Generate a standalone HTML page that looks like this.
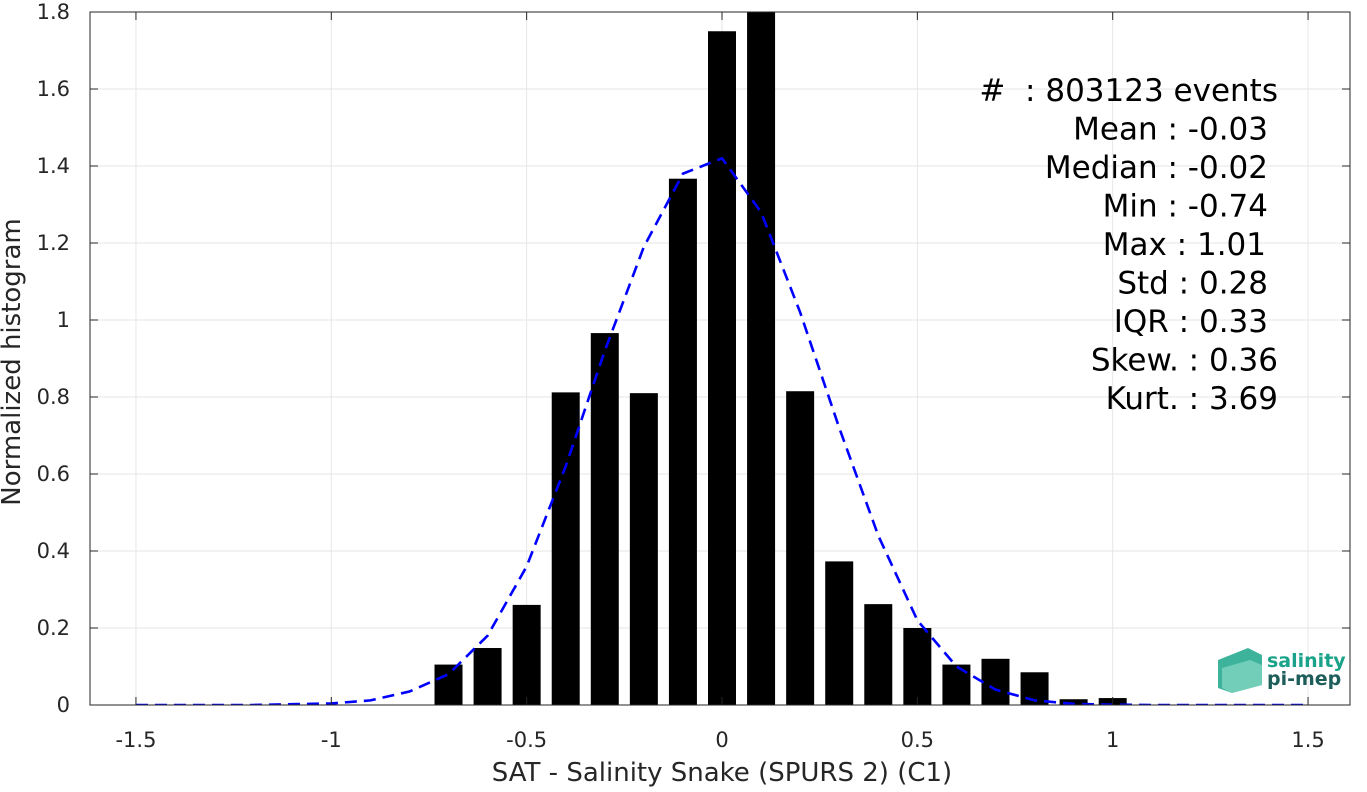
<!DOCTYPE html>
<html><head><meta charset="utf-8"><style>
body{margin:0;background:#fff;font-family:"Liberation Sans","DejaVu Sans",sans-serif;}
svg text{font-family:"DejaVu Sans","Liberation Sans",sans-serif;}
</style></head><body>
<svg id="c" width="1367" height="787" xmlns="http://www.w3.org/2000/svg"></svg>
<script>
const xTicks=[-1.5,-1,-0.5,0,0.5,1,1.5];
const xTickLabels=["-1.5","-1","-0.5","0","0.5","1","1.5"];
const yTicks=[0,0.2,0.4,0.6,0.8,1,1.2,1.4,1.6,1.8];
const yTickLabels=["0","0.2","0.4","0.6","0.8","1","1.2","1.4","1.6","1.8"];
const binCenters=[-0.7,-0.6,-0.5,-0.4,-0.3,-0.2,-0.1,0,0.1,0.2,0.3,0.4,0.5,0.6,0.7,0.8,0.9,1.0];
const binValues=[0.105,0.148,0.26,0.812,0.966,0.81,1.367,1.75,1.85,0.815,0.373,0.262,0.2,0.105,0.12,0.085,0.015,0.018];
const fitX=[-1.5,-1.4,-1.3,-1.2,-1.1,-1.0,-0.9,-0.8,-0.7,-0.6,-0.5,-0.4,-0.3,-0.2,-0.1,0,0.1,0.2,0.3,0.4,0.5,0.6,0.7,0.8,0.9,1.0,1.1,1.2,1.3,1.4,1.5];
const fitY=[0,0,0,0,0.002,0.004,0.012,0.035,0.08,0.18,0.36,0.62,0.92,1.19,1.38,1.42,1.28,1.02,0.72,0.44,0.22,0.1,0.04,0.012,0.003,0.001,0,0,0,0,0];
const stats=["#  : 803123 events","Mean : -0.03","Median : -0.02","Min : -0.74","Max : 1.01","Std : 0.28","IQR : 0.33","Skew. : 0.36","Kurt. : 3.69"];
const statRight=[1278,1268,1268,1268,1266,1268,1268,1278,1278];

const L=90,R=1350,T=12,B=705;
const X=v=>722+v*390.7;
const Y=v=>B-v*385;
const s=document.getElementById('c');
const NS="http://www.w3.org/2000/svg";
function mk(t,a,p){const e=document.createElementNS(NS,t);for(const k in a)e.setAttribute(k,a[k]);(p||s).appendChild(e);return e;}
mk('rect',{x:L,y:T,width:R-L,height:B-T,fill:'#fff'});
const grid=mk('g',{});


xTicks.forEach(v=>mk('line',{x1:X(v),x2:X(v),y1:T,y2:B,stroke:'#e6e6e6','stroke-width':1},grid));
yTicks.forEach(v=>mk('line',{x1:L,x2:R,y1:Y(v),y2:Y(v),stroke:'#e6e6e6','stroke-width':1},grid));
const defs=mk('defs',{});
const cp=mk('clipPath',{id:'pc'},defs);mk('rect',{x:L,y:T,width:R-L,height:B-T},cp);
const bars=mk('g',{'clip-path':'url(#pc)'});
binCenters.forEach((c,i)=>{
 const b=mk('rect',{x:X(c)-14,y:Y(binValues[i]),width:28,height:B-Y(binValues[i]),fill:'#000'},bars);
 
 
});
const fit=mk('polyline',{points:fitX.map((x,i)=>X(x)+','+Y(fitY[i])).join(' '),fill:'none',stroke:'#0000ff','stroke-width':2.6,'stroke-dasharray':'12,7','clip-path':'url(#pc)'});


mk('rect',{x:L,y:T,width:R-L,height:B-T,fill:'none',stroke:'#262626','stroke-width':1});
xTicks.forEach((v,i)=>{
 mk('line',{x1:X(v),x2:X(v),y1:B,y2:B-8,stroke:'#262626'});
 mk('line',{x1:X(v),x2:X(v),y1:T,y2:T+8,stroke:'#262626'});
 const t=mk('text',{x:X(v),y:B+42,'font-size':21,'text-anchor':'middle',fill:'#262626'});t.textContent=xTickLabels[i];
 
 
});
yTicks.forEach((v,i)=>{
 mk('line',{x1:L,x2:L+8,y1:Y(v),y2:Y(v),stroke:'#262626'});
 mk('line',{x1:R,x2:R-8,y1:Y(v),y2:Y(v),stroke:'#262626'});
 const t=mk('text',{x:L-20,y:Y(v)+7,'font-size':21,'text-anchor':'end',fill:'#262626'});t.textContent=yTickLabels[i];
 
 
});
const xt=mk('text',{x:722,y:781,'font-size':26,'text-anchor':'middle',fill:'#262626'});xt.textContent='SAT - Salinity Snake (SPURS 2) (C1)';


const yt=mk('text',{x:0,y:0,'font-size':26,'text-anchor':'middle',fill:'#262626',transform:'translate(20,362) rotate(-90)'});yt.textContent='Normalized histogram';


stats.forEach((st,i)=>{
 const t=mk('text',{x:statRight[i],y:101+i*38.5,'font-size':31,'text-anchor':'end',fill:'#000'});t.textContent=st;
 t.setAttribute('xml:space','preserve');t.style.whiteSpace='pre';
 
 
});
const lg=mk('g',{});


mk('path',{d:'M1218 660 L1248 648 L1262 655 L1262 685 L1232 693 L1218 688 Z',fill:'#3cb39a'},lg);
mk('path',{d:'M1222 668 L1250 660 L1262 665 L1262 685 L1232 693 L1222 688 Z',fill:'#7fd4bf',opacity:0.8},lg);
const l1=mk('text',{x:1267,y:667,'font-size':19,fill:'#1aa38a','font-weight':'bold'},lg);l1.textContent='salinity';
const l2=mk('text',{x:1267,y:685,'font-size':19,fill:'#1e5e5a','font-weight':'bold'},lg);l2.textContent='pi-mep';
</script>
</body></html>
